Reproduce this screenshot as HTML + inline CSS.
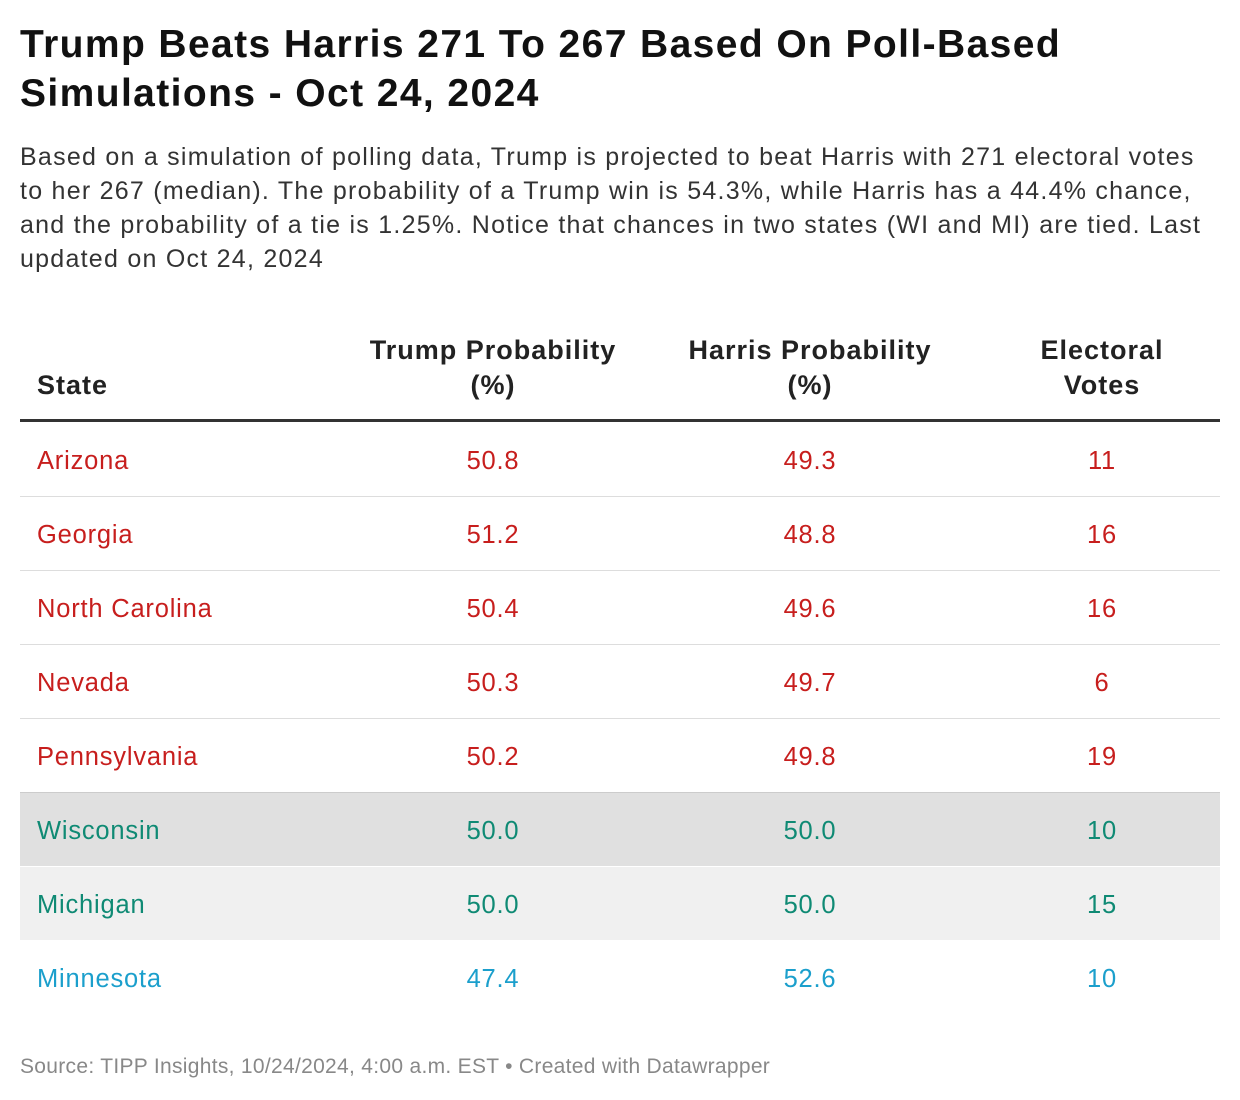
<!DOCTYPE html>
<html><head><meta charset="utf-8">
<style>
body{margin:0;width:1240px;height:1100px;background:#fff;font-family:"Liberation Sans",Arial,sans-serif;position:relative;overflow:hidden;color:#222}
.t{position:absolute;left:20px;top:20px;width:1200px;font-size:39px;font-weight:bold;line-height:49px;color:#111;letter-spacing:1.4px;white-space:nowrap}
.d{position:absolute;left:20px;top:140px;width:1200px;font-size:25px;line-height:34px;color:#333;white-space:nowrap;letter-spacing:1.25px}
.hdr{position:absolute;top:330px;left:20px;width:1200px;height:89px;border-bottom:3px solid #333}
.hc{position:absolute;bottom:16px;font-size:27px;font-weight:bold;line-height:35px;text-align:center;color:#222;letter-spacing:1px}
.row{position:absolute;left:20px;width:1200px;height:73px;border-bottom:1px solid #ddd;font-size:25.5px;letter-spacing:0.8px}
.row div{position:absolute;top:2px;line-height:73px}
.c1{left:17px}
.c2{left:393px;width:160px;text-align:center}
.c3{left:710px;width:160px;text-align:center}
.c4{left:1002px;width:160px;text-align:center}
.red{color:#c71e1d}.grn{color:#0f8a74}.blu{color:#1b9fcc}
.src{position:absolute;left:20px;top:1055px;font-size:21px;color:#888;letter-spacing:0.3px}
</style></head><body>
<div class="t">Trump Beats Harris 271 To 267 Based On Poll-Based<br>Simulations - Oct 24, 2024</div>
<div class="d">Based on a simulation of polling data, Trump is projected to beat Harris with 271 electoral votes<br>to her 267 (median). The probability of a Trump win is 54.3%, while Harris has a 44.4% chance,<br>and the probability of a tie is 1.25%. Notice that chances in two states (WI and MI) are tied. Last<br>updated on Oct 24, 2024</div>
<div class="hdr">
<div class="hc" style="left:17px;text-align:left">State</div>
<div class="hc" style="left:323px;width:300px">Trump Probability<br>(%)</div>
<div class="hc" style="left:640px;width:300px">Harris Probability<br>(%)</div>
<div class="hc" style="left:982px;width:200px">Electoral<br>Votes</div>
</div>
<div id="rows"></div>
<div class="src">Source: TIPP Insights, 10/24/2024, 4:00 a.m. EST • Created with Datawrapper</div>
<script>
const states=["Arizona","Georgia","North Carolina","Nevada","Pennsylvania","Wisconsin","Michigan","Minnesota"];
const trump=["50.8","51.2","50.4","50.3","50.2","50.0","50.0","47.4"];
const harris=["49.3","48.8","49.6","49.7","49.8","50.0","50.0","52.6"];
const votes=["11","16","16","6","19","10","15","10"];
const colorClass=["red","red","red","red","red","grn","grn","blu"];
const bgs=["","","","","","#e0e0e0","#f0f0f0",""];
const host=document.getElementById('rows');
states.forEach((s,i)=>{
  const r=document.createElement('div');
  r.className='row '+colorClass[i];
  r.style.top=(423+i*74)+'px';
  if(bgs[i])r.style.background=bgs[i];
  if(i===4)r.style.borderBottom='2px solid #ccc';
  if(i>=5)r.style.borderBottom='none';
  
  
  [[s,'c1'],[trump[i],'c2'],[harris[i],'c3'],[votes[i],'c4']].forEach(([v,c])=>{
    const d=document.createElement('div');d.className=c;d.textContent=v;
    
    
    r.appendChild(d);
  });
  host.appendChild(r);
});
</script>
</body></html>
